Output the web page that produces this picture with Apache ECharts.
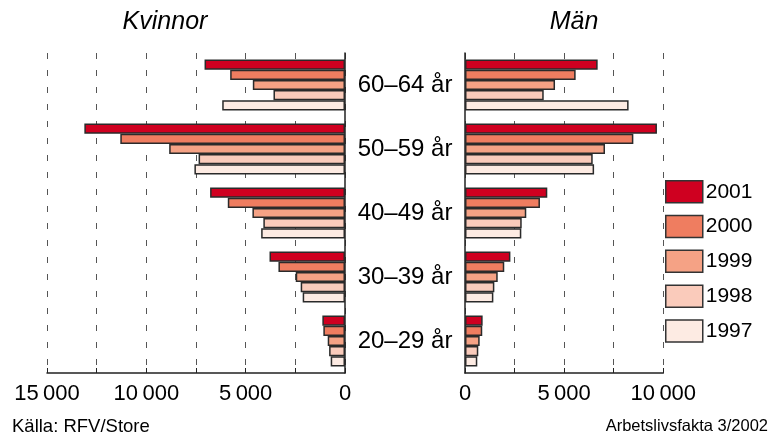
<!DOCTYPE html>
<html>
<head>
<meta charset="utf-8">
<script src="https://cdn.jsdelivr.net/npm/echarts@6/dist/echarts.min.js"></script>
<style>
html,body{margin:0;padding:0;background:#fff;}
#chart{width:773px;height:441px;}
</style>
</head>
<body>
<div id="chart"></div>
<script>
const categories = ['60–64 år', '50–59 år', '40–49 år', '30–39 år', '20–29 år'];
const years = ['2001', '2000', '1999', '1998', '1997'];
const colors = ['#cf0020', '#ef7d60', '#f5a285', '#facbbb', '#fdebe3'];

// Kvinnor (women), per year, categories top to bottom
const women2001 = [7070, 13120, 6790, 3800, 1140];
const women2000 = [5780, 11310, 5900, 3350, 1090];
const women1999 = [4640, 8850, 4660, 2480, 870];
const women1998 = [3600, 7370, 4110, 2230, 800];
const women1997 = [6180, 7580, 4220, 2130, 720];

// Män (men)
const men2001 = [6690, 9680, 4150, 2290, 890];
const men2000 = [5580, 8490, 3780, 1980, 870];
const men1999 = [4540, 7060, 3090, 1650, 740];
const men1998 = [3970, 6440, 2860, 1480, 670];
const men1997 = [8250, 6510, 2840, 1430, 620];

const leftTicks = [0, 5000, 10000, 15000];
const rightTicks = [0, 5000, 10000];

const womenData = [women2001, women2000, women1999, women1998, women1997];
const menData = [men2001, men2000, men1999, men1998, men1997];

const FONT = '"Liberation Sans", Arial, Helvetica, sans-serif';
function fmt(v) {
  return String(v).replace(/\B(?=(\d{3})+(?!\d))/g, '\u2009');
}
function labelFmt(ticks) {
  return function (v) { return ticks.indexOf(v) >= 0 ? fmt(v) : ''; };
}

const chart = echarts.init(document.getElementById('chart'), null, {renderer: 'canvas'});

function xAxisCfg(gridIndex, max, inverse, ticks) {
  return {
    type: 'value', gridIndex: gridIndex, min: 0, max: max, interval: 2500, inverse: inverse,
    position: 'bottom',
    axisLine: {show: true, lineStyle: {color: '#222', width: 1.5}},
    axisTick: {show: true, inside: true, length: 5, lineStyle: {color: '#222', width: 1}},
    axisLabel: {show: true, formatter: labelFmt(ticks), fontSize: 22, color: '#000', fontFamily: FONT, margin: 10, showMinLabel: true, showMaxLabel: true},
    splitLine: {show: true, lineStyle: {color: '#555', width: 1, type: [6, 11]}}
  };
}

const series = [];
years.forEach(function (y, i) {
  series.push({
    name: y, type: 'bar', xAxisIndex: 0, yAxisIndex: 0, data: womenData[i],
    barGap: '0%', barCategoryGap: '20%',
    itemStyle: {color: colors[i], borderColor: '#2a2a2a', borderWidth: 1.5},
    emphasis: {disabled: true}
  });
});
years.forEach(function (y, i) {
  series.push({
    name: y, type: 'bar', xAxisIndex: 1, yAxisIndex: 1, data: menData[i],
    barGap: '0%', barCategoryGap: '20%',
    itemStyle: {color: colors[i], borderColor: '#2a2a2a', borderWidth: 1.5},
    emphasis: {disabled: true}
  });
});

chart.setOption({
  animation: false,
  backgroundColor: '#fff',
  textStyle: {fontFamily: FONT},
  title: [
    {text: 'Kvinnor', left: 160, top: 5, textAlign: 'center', textStyle: {fontSize: 25, fontStyle: 'italic', fontWeight: 'normal', color: '#000', fontFamily: FONT}},
    {text: 'Män', left: 569, top: 5, textAlign: 'center', textStyle: {fontSize: 25, fontStyle: 'italic', fontWeight: 'normal', color: '#000', fontFamily: FONT}}
  ],
  legend: {
    orient: 'vertical', left: 665, top: 180, padding: 0, itemWidth: 37, itemHeight: 22, itemGap: 11.3,
    icon: 'rect',
    data: years,
    textStyle: {fontSize: 21, color: '#000', fontFamily: FONT, padding: [0, 0, 0, -2]},
    itemStyle: {borderColor: '#333', borderWidth: 1.5},
    selectedMode: false
  },
  grid: [
    {left: 47, top: 53, width: 298, height: 320, containLabel: false},
    {left: 465, top: 53, width: 198.3, height: 320, containLabel: false}
  ],
  xAxis: [xAxisCfg(0, 15000, true, leftTicks), xAxisCfg(1, 10000, false, rightTicks)],
  yAxis: [
    {
      type: 'category', gridIndex: 0, data: categories, inverse: true, position: 'right',
      axisLine: {show: true, lineStyle: {color: '#222', width: 1.5}},
      axisTick: {show: false},
      axisLabel: {show: true, margin: 60, align: 'center', fontSize: 24, color: '#000', fontFamily: FONT, padding: [0, 0, 5, 0]},
      splitLine: {show: false}
    },
    {
      type: 'category', gridIndex: 1, data: categories, inverse: true, position: 'left',
      axisLine: {show: true, lineStyle: {color: '#222', width: 1.5}},
      axisTick: {show: false},
      axisLabel: {show: false},
      splitLine: {show: false}
    }
  ],
  graphic: [
    {type: 'text', left: 12, top: 417, style: {text: 'Källa: RFV/Store', fontSize: 18.5, fill: '#000', fontFamily: FONT}},
    {type: 'text', right: 5, top: 418, style: {text: 'Arbetslivsfakta 3/2002', fontSize: 16.5, fill: '#000', fontFamily: FONT}}
  ],
  series: series
});
</script>
</body>
</html>
